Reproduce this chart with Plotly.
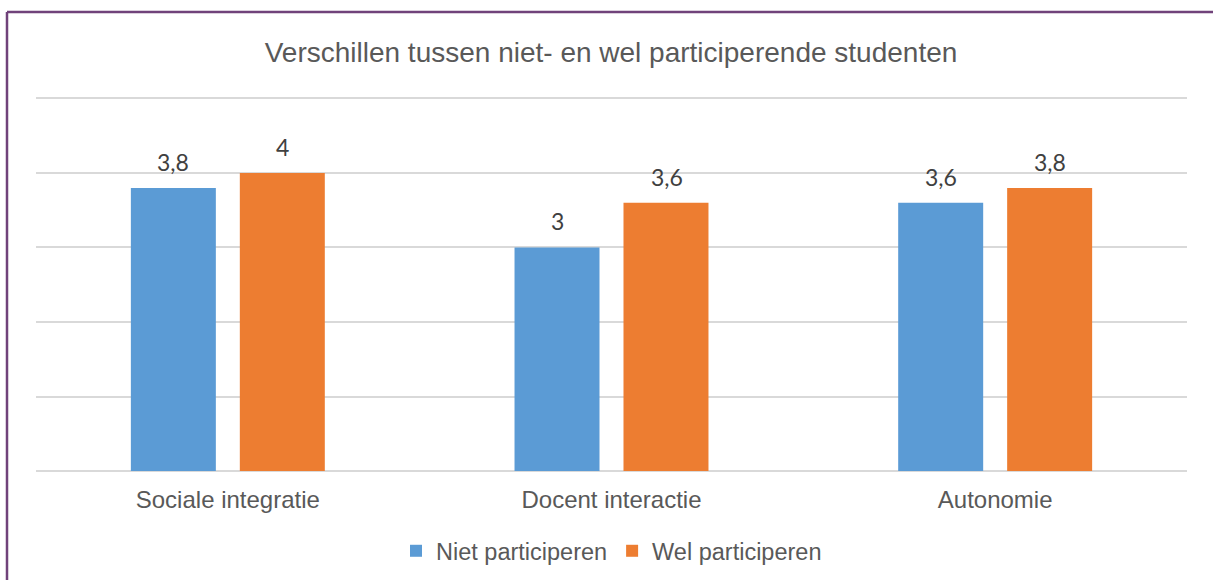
import plotly.graph_objects as go

categories = ["Sociale integratie", "Docent interactie", "Autonomie"]
niet_values = [3.8, 3.0, 3.6]
wel_values = [4.0, 3.6, 3.8]
series_names = ["Niet participeren", "Wel participeren"]
title_text = "Verschillen tussen niet- en wel participerende studenten"

W, H = 1213, 580
ML, MR, MT, MB = 36, 26, 97, 109
PW, PH = W - ML - MR, H - MT - MB

def px_x(p):
    return (p - ML) / PW

def px_y(p):
    return (H - MB - p) / PH

fig = go.Figure()
fig.add_trace(go.Bar(x=categories, y=niet_values, name=series_names[0],
                     marker=dict(color="#5B9BD5", line=dict(width=0))))
fig.add_trace(go.Bar(x=categories, y=wel_values, name=series_names[1],
                     marker=dict(color="#ED7D31", line=dict(width=0))))

def fmt(v):
    s = f"{v:g}"
    return s.replace(".", ",")

annotations = []
for vals, shift in ((niet_values, -54.5), (wel_values, 55.0)):
    for c, v in zip(categories, vals):
        annotations.append(dict(x=c, y=v, xref="x", yref="y", text=fmt(v),
                                showarrow=False, xshift=shift, yshift=26,
                                yanchor="middle",
                                font=dict(family="Lato", size=23, color="#404040")))

shapes = [
    dict(type="line", xref="paper", yref="paper",
         x0=px_x(7), x1=px_x(7), y0=px_y(600), y1=px_y(12),
         line=dict(color="#70427A", width=2.5)),
    dict(type="line", xref="paper", yref="paper",
         x0=px_x(7), x1=px_x(1230), y0=px_y(12), y1=px_y(12),
         line=dict(color="#70427A", width=2.5)),
]

fig.update_layout(
    width=W, height=H,
    margin=dict(l=ML, r=MR, t=MT, b=MB, autoexpand=False),
    paper_bgcolor="white", plot_bgcolor="white",
    barmode="group", bargap=0.432, bargroupgap=0.22,
    title=dict(text=title_text, x=px_x(611), xref="paper", xanchor="center",
               y=1 - 52 / H, yanchor="middle",
               font=dict(family="Liberation Sans, Arial", size=28, color="#595959")),
    font=dict(family="Liberation Sans, Arial", color="#595959"),
    xaxis=dict(showgrid=False, showline=False, ticks="", ticklen=0, automargin=False,
               tickfont=dict(size=24, color="#595959"), ticklabelstandoff=12),
    yaxis=dict(range=[0, 5.02], tickvals=[0, 1, 2, 3, 4, 5], showticklabels=False,
               automargin=False,
               showgrid=True, gridcolor="#D9D9D9", gridwidth=1.5, zeroline=True,
               zerolinecolor="#D9D9D9", zerolinewidth=1.5, showline=False),
    legend=dict(orientation="h", x=0.5, xanchor="center",
                yref="container", y=1 - 551 / H,
                yanchor="middle", font=dict(size=23.5, color="#595959"),
                itemwidth=30, tracegroupgap=0),
    annotations=annotations,
    shapes=shapes,
    showlegend=True,
)

fig.write_html("out.html", config={"displayModeBar": False},
               post_script="document.body.style.margin='0';document.body.style.overflow='hidden';")
